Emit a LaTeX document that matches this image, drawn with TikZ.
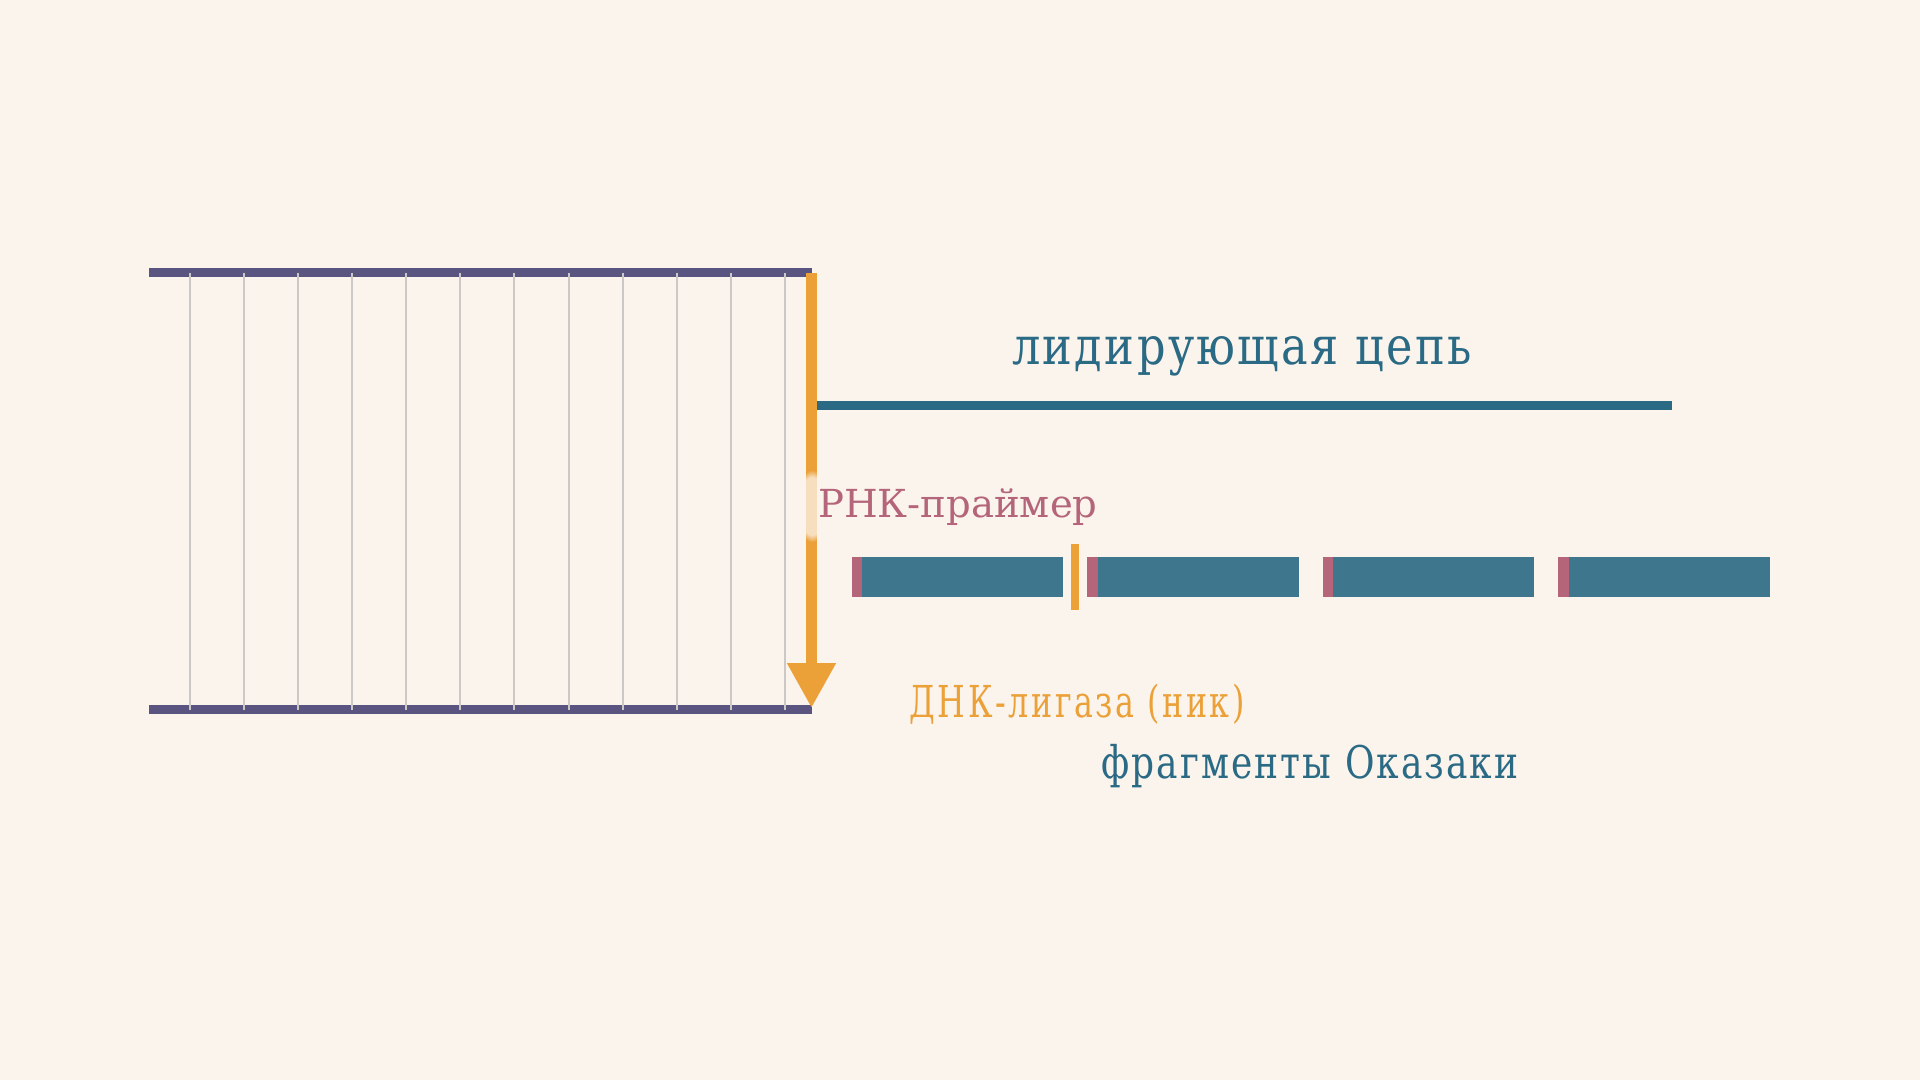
\documentclass[tikz,border=0pt]{standalone}
\usepackage{fontspec}
\setmainfont{DejaVu Serif}
\newfontfamily\leadfont[FakeStretch=0.85, LetterSpace=4.6]{DejaVu Serif}
\newfontfamily\ligasefont[FakeStretch=0.72, LetterSpace=6]{DejaVu Serif}
\newfontfamily\fragfont[FakeStretch=0.8, LetterSpace=4.6]{DejaVu Serif}
\usetikzlibrary{arrows.meta, positioning, fadings}
\definecolor{bgcol}{HTML}{FAF4ED}
\definecolor{strandcol}{HTML}{5A5480}
\definecolor{rungcol}{HTML}{CBC8C6}
\definecolor{forkcol}{HTML}{ECA038}
\definecolor{leadcol}{HTML}{2B6A84}
\definecolor{fragcol}{HTML}{3E768D}
\definecolor{primercol}{HTML}{B5657A}
\tikzset{
  strand/.style={draw=strandcol, line width=9pt},
  rung/.style={draw=rungcol, line width=2pt},
  fork/.style={draw=forkcol, line width=11pt, -{Triangle[length=45pt, width=46pt]}},
  fragment/.style={rectangle, fill=fragcol, inner sep=0pt, outer sep=0pt, minimum width=201pt, minimum height=40pt},
  primer/.style={rectangle, fill=primercol, inner sep=0pt, outer sep=0pt, minimum width=10.5pt, minimum height=40pt},
  label/.style={inner sep=0pt, anchor=base}
}
\begin{document}
\begin{tikzpicture}[x=1pt, y=-1pt]
  \fill [bgcol] (0, 0) rectangle (1920, 1080);
  \useasboundingbox (0, 0) rectangle (1920, 1080);
  % Parent duplex
  \coordinate (top-left) at (149, 272.5);
  \coordinate (top-right) at (812, 272.5);
  \coordinate (bottom-left) at (149, 709.5);
  \coordinate (bottom-right) at (812, 709.5);
  \draw [strand] (top-left) -- (top-right);
  \draw [strand] (bottom-left) -- (bottom-right);
  % Rungs
  \foreach \x in {1, ..., 12} {
    \coordinate (rung-top-\x) at (135.7 + 54.1 * \x, 272.5);
    \coordinate (rung-bottom-\x) at (135.7 + 54.1 * \x, 709.5);
    \draw [rung] (rung-top-\x) -- (rung-bottom-\x);
  }
  % Fork arrow
  \coordinate (fork-start) at (811.5, 273);
  \coordinate (fork-end) at (811.5, 708);
  \draw [fork] (fork-start) -- (fork-end);
  % Leading strand
  \coordinate (lead-start) at (817, 405);
  \coordinate (lead-end) at (1672, 405);
  \draw [draw=leadcol, line width=9pt] (lead-start) -- (lead-end);
  \node [label, text=leadcol, font=\leadfont\fontsize{52.5}{60}\selectfont] (lead-label) at (1242, 364) {лидирующая цепь};
  % Lagging strand fragments
  \foreach \x in {1, ..., 4} {
    \node [fragment, anchor=west] (frag-\x) at (862 + 235.6 * \x - 235.6, 577) {};
    \node [primer, left=0pt of frag-\x] (primer-\x) {};
  }
  \node [rectangle, fill=forkcol, inner sep=0pt, minimum width=8pt, minimum height=66pt] (nick) at (1075, 577) {};
  % Labels
  \fill [bgcol, fill opacity=0.75, path fading=circle with fuzzy edge 20 percent] (812, 506) ellipse [x radius=16, y radius=36];
  \node [label, anchor=base west, text=primercol, font=\fontsize{38.6}{46}\selectfont] (primer-label) at (818, 517) {РНК-праймер};
  \node [label, text=forkcol, font=\ligasefont\fontsize{44}{50}\selectfont] (ligase-label) at (1077, 717) {ДНК-лигаза (ник)};
  \node [label, text=leadcol, font=\fragfont\fontsize{45}{52}\selectfont] (frag-label) at (1310, 778) {фрагменты Оказаки};
\end{tikzpicture}
\end{document}
